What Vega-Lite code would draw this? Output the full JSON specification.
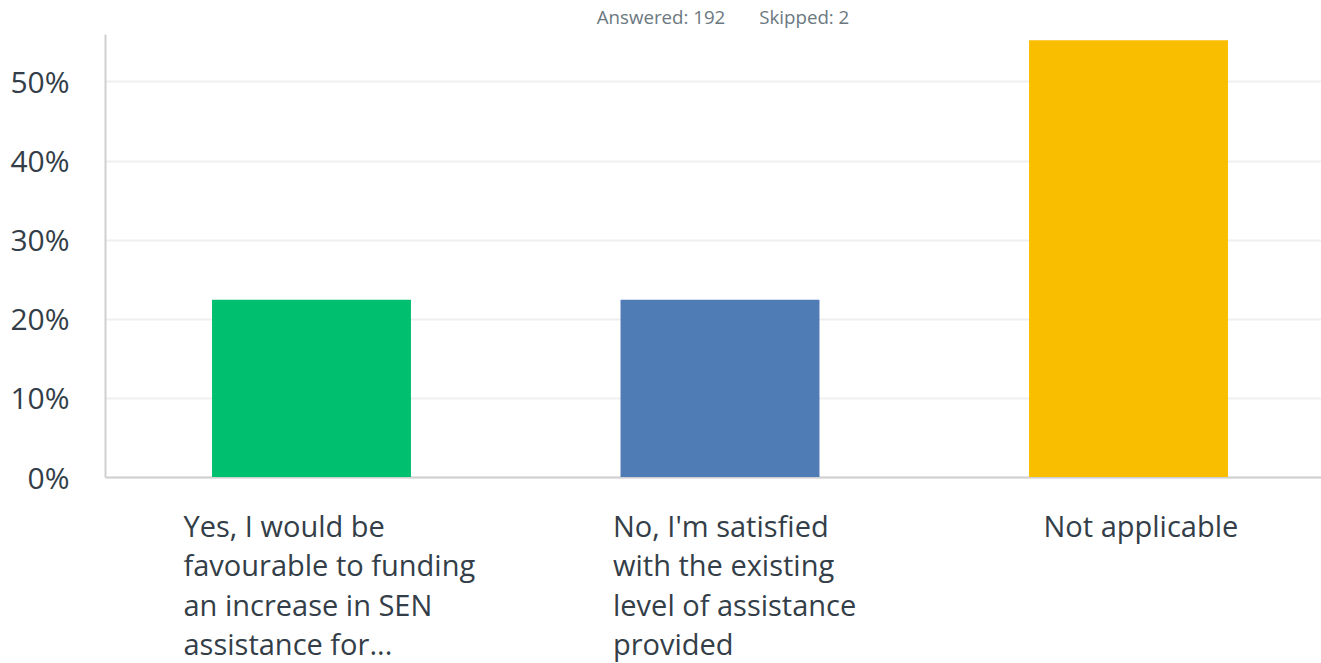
{
  "$schema": "https://vega.github.io/schema/vega-lite/v6.json",
  "width": 1230,
  "height": 443,
  "autosize": {"type": "none"},
  "padding": {"left": 105, "top": 34, "right": 0, "bottom": 186},
  "background": "white",
  "title": {
    "text": "Answered: 192\u00a0\u00a0\u00a0\u00a0\u00a0\u00a0\u00a0Skipped: 2",
    "font": "Open Sans",
    "fontSize": 18.7,
    "fontWeight": "normal",
    "color": "#6b787f",
    "anchor": "middle",
    "offset": 6,
    "dx": 3
  },
  "data": {
    "values": [
      {"choice": "Yes", "label": "Yes, I would be|favourable to funding|an increase in SEN|assistance for...", "pct": 0.224},
      {"choice": "No", "label": "No, I'm satisfied|with the existing|level of assistance|provided", "pct": 0.224},
      {"choice": "NA", "label": "Not applicable", "pct": 0.5521}
    ]
  },
  "mark": {"type": "bar"},
  "encoding": {
    "x": {
      "field": "label",
      "type": "nominal",
      "sort": null,
      "scale": {"paddingInner": 0.513, "paddingOuter": 0.262},
      "axis": {
        "title": null,
        "labelAngle": 0,
        "labelExpr": "split(datum.label, '|')",
        "labelFont": "Open Sans",
        "labelFontSize": 29,
        "labelColor": "#333e48",
        "labelAlign": "left",
        "labelBaseline": "top",
        "labelLineHeight": 39.5,
        "labelPadding": 36,
        "labelLimit": 0,
        "labelOffset": {"condition": [{"test": "indexof(datum.value, 'Yes') == 0", "value": -128}, {"test": "indexof(datum.value, 'No,') == 0", "value": -107}], "value": -85},
        "ticks": false,
        "domainColor": "#d0d0d0",
        "domainWidth": 2,
        "grid": false
      }
    },
    "y": {
      "field": "pct",
      "type": "quantitative",
      "scale": {"domain": [0, 0.56], "nice": false},
      "axis": {
        "title": null,
        "format": ".0%",
        "values": [0, 0.1, 0.2, 0.3, 0.4, 0.5],
        "labelFont": "Open Sans",
        "labelFontSize": 30,
        "labelColor": "#333e48",
        "labelPadding": 36,
        "labelOffset": 2,
        "ticks": false,
        "domainColor": "#d0d0d0",
        "domainWidth": 2,
        "gridColor": "#efefef",
        "gridWidth": 2
      }
    },
    "color": {
      "field": "choice",
      "type": "nominal",
      "scale": {"domain": ["Yes", "No", "NA"], "range": ["#00bf6f", "#507cb6", "#f9be00"]},
      "legend": null
    }
  },
  "config": {"view": {"stroke": null}}
}
